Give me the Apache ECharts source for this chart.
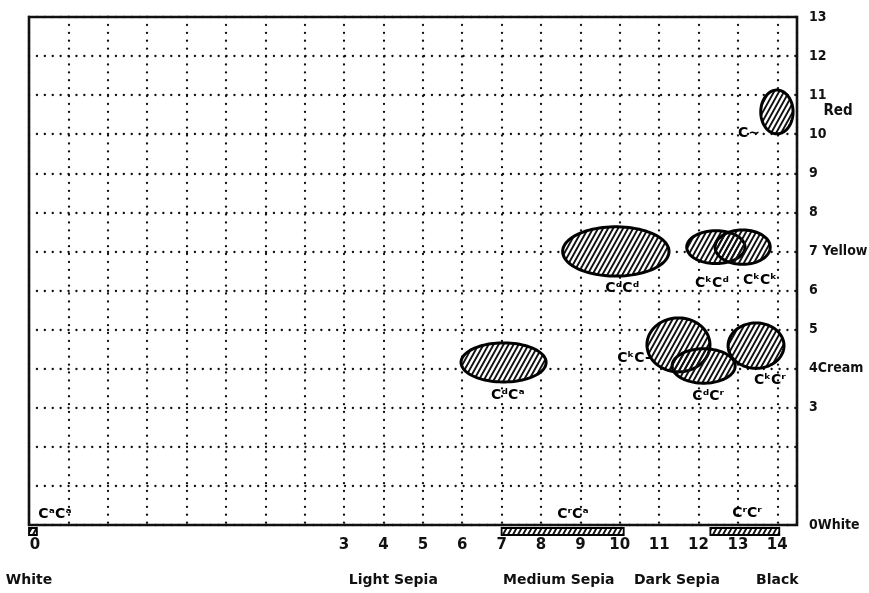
<!DOCTYPE html>
<html><head><meta charset="utf-8">
<script src="https://cdn.jsdelivr.net/npm/echarts@6/dist/echarts.min.js"></script>
<style>html,body{margin:0;padding:0;background:#fff}#c{width:869px;height:593px}</style>
</head><body><div id="c"></div>
<script>
// ---- axis ticks ----
const xTickValues = [-5, 3, 4, 5, 6, 7, 8, 9, 10, 11, 12, 13, 14];
const xTickTexts  = ['0', '3', '4', '5', '6', '7', '8', '9', '10', '11', '12', '13', '14'];
const shadeNames     = ['White', 'Light Sepia', 'Medium Sepia', 'Dark Sepia', 'Black'];
const shadePositions = [-5, 4.25, 8.45, 11.45, 14];
const yTickValues = [0, 3, 4, 5, 6, 7, 8, 9, 10, 11, 12, 13];
const yTickTexts  = ['0White', '3', '4Cream', '5', '6', '7 Yellow', '8', '9', '10', '11', '12', '13'];
const redName = 'Red';
const redLevel = 10.6;

// ---- ellipses (genotype ranges): centre x, centre y, half width, half height ----
const ellipseCX = [13.99, 9.90, 12.44, 13.12, 7.05, 11.49, 12.13, 13.46];
const ellipseCY = [10.57, 7.00, 7.11, 7.11, 4.16, 4.61, 4.07, 4.59];
const ellipseRX = [0.41, 1.35, 0.74, 0.70, 1.08, 0.80, 0.80, 0.71];
const ellipseRY = [0.56, 0.63, 0.42, 0.44, 0.50, 0.69, 0.44, 0.58];

// ---- bars on the white baseline: start, end ----
const barStart = [-5, 7, 12.3];
const barEnd   = [-4.8, 10.1, 14.05];

// ---- genotype labels ----
const labelTexts = ['C~', 'CᵈCᵈ', 'CᵏCᵈ', 'CᵏCᵏ', 'CᵈCᵃ', 'CᵏC-', 'CᵈCʳ', 'CᵏCʳ', 'CᵃCᵃ', 'CʳCᵃ', 'CʳCʳ'];
const labelX     = [13.28, 10.06, 12.34, 13.56, 7.16, 10.36, 12.24, 13.81, -4.34, 8.81, 13.23];
const labelY     = [10.03, 6.06, 6.19, 6.25, 3.33, 4.27, 3.28, 3.71, 0.26, 0.26, 0.31];

// hatch pattern: steep diagonal lines, seamless tile
function makeHatch() {
  const w = 5, h = 9, cv = document.createElement('canvas');
  cv.width = w; cv.height = h;
  const g = cv.getContext('2d');
  g.strokeStyle = '#111'; g.lineWidth = 1.9; g.lineCap = 'butt';
  g.beginPath();
  g.moveTo(-w, h); g.lineTo(w, -h);
  g.moveTo(-w, 2 * h); g.lineTo(2 * w, -h);
  g.moveTo(0, 2 * h); g.lineTo(2 * w, 0);
  g.stroke();
  return cv;
}
const hatch = { image: makeHatch(), repeat: 'repeat' };

const FONT = 'DejaVu Sans';
const NARROW = 'DejaVu Sans Condensed';
const dotted = { color: '#111', width: 2.3, type: [0.1, 7.8], cap: 'round' };

function ellipseItem(fill, stroke) {
  return function (params, api) {
    const c = api.coord([api.value(0), api.value(1)]);
    const rx = api.size([api.value(2), 0])[0];
    const ry = api.size([0, api.value(3)])[1];
    const pts = [];
    for (let k = 0; k < 90; k++) {
      const a = k / 90 * Math.PI * 2;
      pts.push([c[0] + rx * Math.cos(a), c[1] + ry * Math.sin(a)]);
    }
    return { type: 'polygon', shape: { points: pts },
             style: stroke ? { fill: fill, stroke: '#000', lineWidth: 3 } : { fill: fill } };
  };
}
function barItem(fill, stroke) {
  return function (params, api) {
    const p0 = api.coord([api.value(0), 0]);
    const p1 = api.coord([api.value(1), 0]);
    return { type: 'rect', shape: { x: p0[0], y: p0[1] + 3, width: p1[0] - p0[0], height: 7 },
             style: stroke ? { fill: fill, stroke: '#000', lineWidth: 1.8 } : { fill: fill } };
  };
}
const ellipseData = ellipseCX.map((x, i) => [x, ellipseCY[i], ellipseRX[i], ellipseRY[i]]);
const barData = barStart.map((s, i) => [s, barEnd[i]]);

const chart = echarts.init(document.getElementById('c'), null, { renderer: 'canvas' });
chart.setOption({
  backgroundColor: '#fff',
  animation: false,
  grid: { left: 29, top: 17, width: 768, height: 508, show: true, borderColor: '#111', borderWidth: 2.6,
          containLabel: false, outerBoundsMode: 'none' },
  xAxis: {
    type: 'value', min: -5, max: 14.5, interval: 1,
    axisLine: { show: false }, axisTick: { show: false },
    splitLine: { show: true, lineStyle: dotted },
    axisLabel: {
      interval: 0, margin: 13, color: '#111', fontFamily: FONT, fontWeight: 'bold', fontSize: 15,
      showMinLabel: true, showMaxLabel: true,
      formatter: function (v) {
        const i = xTickValues.findIndex(t => Math.abs(t - v) < 1e-6);
        if (i < 0) return '';
        return i === 0 ? '{z|' + xTickTexts[i] + '}' : xTickTexts[i];
      },
      rich: { z: { padding: [0, 0, 0, 12], fontFamily: FONT, fontWeight: 'bold', fontSize: 15, color: '#111' } }
    }
  },
  yAxis: {
    type: 'value', position: 'right', min: 0, max: 13, interval: 1,
    axisLine: { show: false }, axisTick: { show: false },
    splitLine: { show: true, lineStyle: dotted },
    axisLabel: {
      margin: 12, color: '#111', fontFamily: NARROW, fontWeight: 'bold', fontSize: 14, align: 'left',
      formatter: function (v) {
        const i = yTickValues.findIndex(t => Math.abs(t - v) < 1e-6);
        return i < 0 ? '' : yTickTexts[i];
      }
    }
  },
  series: [
    { type: 'custom', name: 'ellipseBg', silent: true, clip: false, z: 2,
      data: ellipseData, renderItem: ellipseItem('#fff', false) },
    { type: 'custom', name: 'ellipses', silent: true, clip: false, z: 3,
      data: ellipseData, renderItem: ellipseItem(hatch, true) },
    { type: 'custom', name: 'barBg', silent: true, clip: false, z: 2,
      data: barData, renderItem: barItem('#fff', false) },
    { type: 'custom', name: 'bars', silent: true, clip: false, z: 3,
      data: barData, renderItem: barItem(hatch, true) },
    {
      type: 'scatter', name: 'labels', silent: true, symbolSize: 1, z: 4,
      itemStyle: { color: 'rgba(0,0,0,0)' },
      data: labelX.map((x, i) => ({ value: [x, labelY[i]], name: labelTexts[i] })),
      label: { show: true, position: 'inside', formatter: '{b}', color: '#000', opacity: 1,
               textBorderWidth: 0, fontFamily: FONT, fontWeight: 'bold', fontSize: 14 }
    }
  ]
});

// shade names below the numeric labels, and the 'Red' level label
const g = [];
shadeNames.forEach((n, i) => {
  const p = chart.convertToPixel({ gridIndex: 0 }, [shadePositions[i], 0]);
  g.push({ type: 'text', x: p[0], y: p[1] + 55, silent: true,
           style: { text: n, fill: '#111', font: 'bold 14px "' + FONT + '"', align: 'center', verticalAlign: 'middle' } });
});
const pr = chart.convertToPixel({ gridIndex: 0 }, [14.5, redLevel]);
g.push({ type: 'text', x: pr[0] + 41, y: pr[1], silent: true,
         style: { text: redName, fill: '#111', font: 'bold 15px "' + NARROW + '"', align: 'center', verticalAlign: 'middle' } });
chart.setOption({ graphic: g });
</script>
</body></html>
